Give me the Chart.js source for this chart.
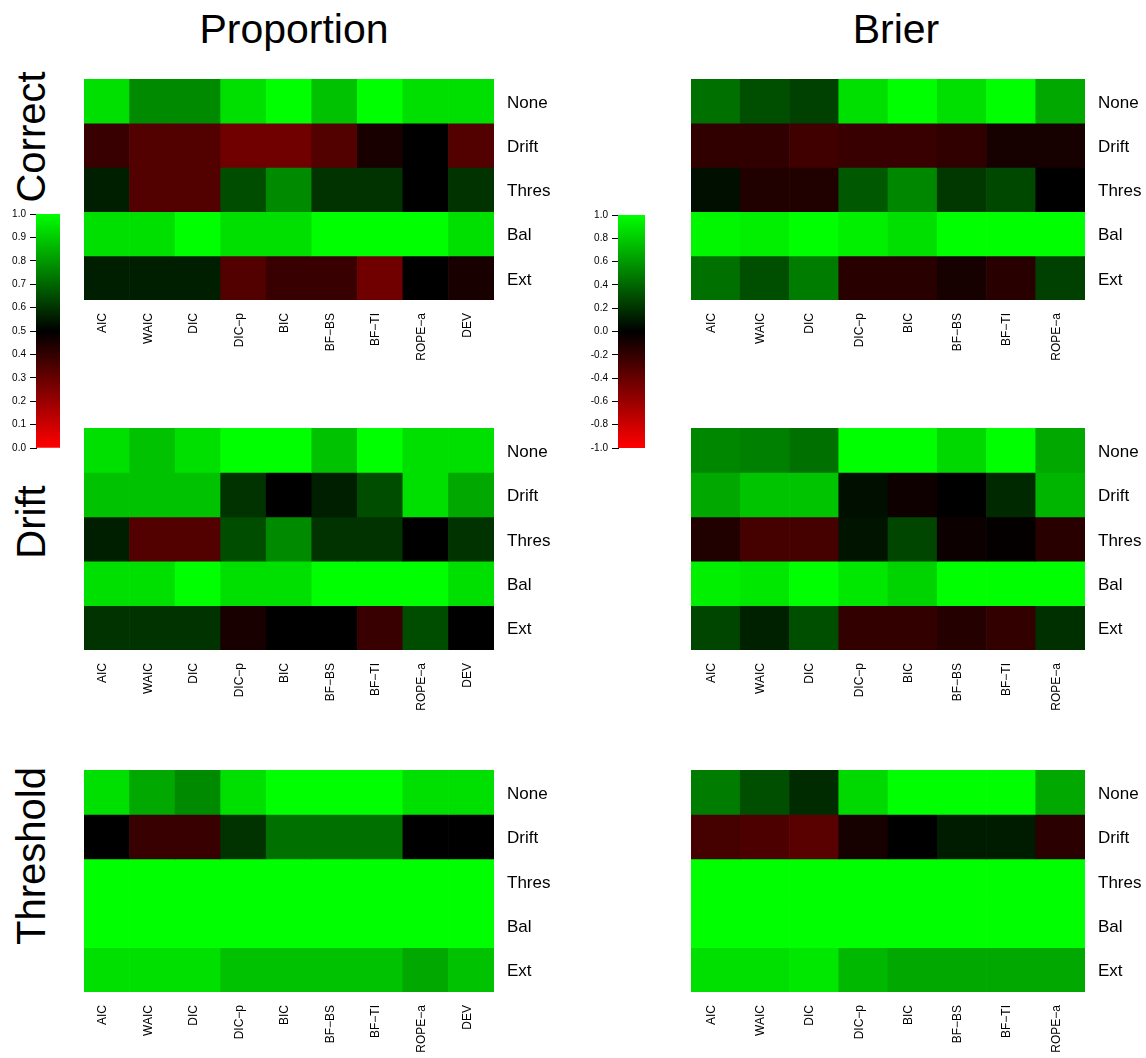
<!DOCTYPE html>
<html>
<head>
<meta charset="utf-8">
<script src="https://cdn.jsdelivr.net/npm/chart.js@4.4.0/dist/chart.umd.min.js"></script>
<style>
body { margin:0; background:#fff; overflow:hidden; width:1146px; height:1058px; position:relative; font-family:'Liberation Sans', Arial, sans-serif; color:#000; }
.box { position:absolute; }
.title { position:absolute; font-size:41px; line-height:40px; white-space:nowrap; transform:translateX(-50%); }
.side { position:absolute; font-size:40px; line-height:40px; white-space:nowrap; transform:translate(-50%,-50%) rotate(-90deg); }
</style>
</head>
<body>
<div class="title" style="left:294px;top:9px">Proportion</div>
<div class="title" style="left:896px;top:9px">Brier</div>
<div class="side" style="left:31px;top:137px">Correct</div>
<div class="side" style="left:31px;top:522px">Drift</div>
<div class="side" style="left:31px;top:856px">Threshold</div>

<div class="box" style="left:84px;top:79px;width:470px;height:296px"><canvas id="propCorrect"></canvas></div>
<div class="box" style="left:691px;top:79px;width:455px;height:296px"><canvas id="brierCorrect"></canvas></div>
<div class="box" style="left:84px;top:428px;width:470px;height:297px"><canvas id="propDrift"></canvas></div>
<div class="box" style="left:691px;top:428px;width:455px;height:297px"><canvas id="brierDrift"></canvas></div>
<div class="box" style="left:84px;top:770px;width:470px;height:297px"><canvas id="propThres"></canvas></div>
<div class="box" style="left:691px;top:770px;width:455px;height:297px"><canvas id="brierThres"></canvas></div>

<div class="box" style="left:0px;top:208px;width:60px;height:246px"><canvas id="barProp"></canvas></div>
<div class="box" style="left:570px;top:209px;width:75px;height:245px"><canvas id="barBrier"></canvas></div>

<script>
// methods (columns) and conditions (rows)
const propMethods = ['AIC', 'WAIC', 'DIC', 'DIC\u2212p', 'BIC', 'BF\u2212BS', 'BF\u2212TI', 'ROPE\u2212a', 'DEV'];
const brierMethods = ['AIC', 'WAIC', 'DIC', 'DIC\u2212p', 'BIC', 'BF\u2212BS', 'BF\u2212TI', 'ROPE\u2212a'];
const rowNames = ['None', 'Drift', 'Thres', 'Bal', 'Ext'];

// colour bar ticks
const propTicks = [0, 0.1, 0.2, 0.3, 0.4, 0.5, 0.6, 0.7, 0.8, 0.9, 1.0];
const brierTicks = [-1, -0.8, -0.6, -0.4, -0.2, 0, 0.2, 0.4, 0.6, 0.8, 1.0];

// proportion correct (0..1), rows None, Drift, Thres, Bal, Ext
const propCorrect = [
    [0.94, 0.77, 0.77, 0.94, 1.00, 0.88, 1.00, 0.94, 0.94],
    [0.39, 0.34, 0.34, 0.28, 0.28, 0.34, 0.45, 0.50, 0.34],
    [0.56, 0.34, 0.34, 0.65, 0.77, 0.60, 0.60, 0.50, 0.60],
    [0.94, 0.94, 1.00, 0.94, 0.94, 1.00, 1.00, 1.00, 0.94],
    [0.56, 0.56, 0.56, 0.34, 0.39, 0.39, 0.28, 0.50, 0.45]
];
const propDrift = [
    [0.94, 0.88, 0.94, 1.00, 1.00, 0.88, 1.00, 0.94, 0.94],
    [0.88, 0.88, 0.88, 0.60, 0.50, 0.56, 0.65, 0.94, 0.83],
    [0.56, 0.34, 0.34, 0.65, 0.77, 0.60, 0.60, 0.50, 0.60],
    [0.94, 0.94, 1.00, 0.94, 0.94, 1.00, 1.00, 1.00, 0.94],
    [0.60, 0.60, 0.60, 0.45, 0.50, 0.50, 0.39, 0.65, 0.50]
];
const propThres = [
    [0.94, 0.83, 0.77, 0.94, 1.00, 1.00, 1.00, 0.94, 0.94],
    [0.50, 0.39, 0.39, 0.60, 0.72, 0.72, 0.72, 0.50, 0.50],
    [1.00, 1.00, 1.00, 1.00, 1.00, 1.00, 1.00, 1.00, 1.00],
    [1.00, 1.00, 1.00, 1.00, 1.00, 1.00, 1.00, 1.00, 1.00],
    [0.94, 0.94, 0.94, 0.88, 0.88, 0.88, 0.88, 0.83, 0.88]
];

// Brier based score (-1..1)
const brierCorrect = [
    [0.44, 0.31, 0.25, 0.88, 1.00, 0.88, 1.00, 0.66],
    [-0.19, -0.19, -0.25, -0.22, -0.22, -0.19, -0.09, -0.09],
    [0.06, -0.13, -0.13, 0.35, 0.53, 0.22, 0.28, 0.00],
    [0.97, 0.94, 1.00, 0.94, 0.88, 1.00, 1.00, 1.00],
    [0.44, 0.31, 0.49, -0.16, -0.16, -0.09, -0.16, 0.25]
];
const brierDrift = [
    [0.53, 0.50, 0.44, 1.00, 1.00, 0.85, 1.00, 0.66],
    [0.66, 0.77, 0.77, 0.06, -0.06, 0.00, 0.16, 0.71],
    [-0.13, -0.27, -0.27, 0.08, 0.27, -0.05, -0.02, -0.16],
    [0.94, 0.91, 1.00, 0.91, 0.83, 1.00, 1.00, 1.00],
    [0.27, 0.13, 0.31, -0.20, -0.20, -0.14, -0.20, 0.19]
];
const brierThres = [
    [0.49, 0.31, 0.17, 0.85, 1.00, 1.00, 1.00, 0.66],
    [-0.27, -0.30, -0.35, -0.09, 0.00, 0.11, 0.11, -0.17],
    [1.00, 1.00, 1.00, 1.00, 1.00, 1.00, 1.00, 1.00],
    [1.00, 1.00, 1.00, 1.00, 1.00, 1.00, 1.00, 1.00],
    [0.88, 0.88, 0.91, 0.72, 0.66, 0.66, 0.66, 0.66]
];

const fontFam = "'Liberation Sans', Arial, sans-serif";

// red -> black -> green
function propColor(v) {
    if (v >= 0.5) return 'rgb(0,' + Math.round((v - 0.5) * 2 * 255) + ',0)';
    return 'rgb(' + Math.round((0.5 - v) * 2 * 255) + ',0,0)';
}
function brierColor(v) {
    if (v >= 0) return 'rgb(0,' + Math.round(v * 255) + ',0)';
    return 'rgb(' + Math.round(-v * 255) + ',0,0)';
}

function heatmap(id, methods, rows, colorFn, rightW) {
    const datasets = rows.map((vals, i) => ({
        label: rowNames[i],
        data: vals.map(() => 1),
        backgroundColor: vals.map(colorFn),
        borderWidth: 0,
        categoryPercentage: 1,
        barPercentage: 1
    }));
    new Chart(document.getElementById(id), {
        type: 'bar',
        data: { labels: methods, datasets: datasets },
        options: {
            responsive: true,
            maintainAspectRatio: false,
            animation: false,
            layout: { padding: 0 },
            plugins: { legend: { display: false }, tooltip: { enabled: false } },
            scales: {
                x: {
                    stacked: true,
                    grid: { display: false, drawTicks: false },
                    border: { display: false },
                    ticks: { autoSkip: false, minRotation: 90, maxRotation: 90, padding: 13, labelOffset: -4, color: '#000', font: { family: fontFam, size: 12 } },
                    afterFit: s => { s.height = 75; s.paddingLeft = 0; s.paddingRight = 0; }
                },
                y: { stacked: true, min: 0, max: 5, reverse: true, display: false },
                yl: {
                    type: 'category',
                    labels: rowNames,
                    position: 'right',
                    offset: true,
                    grid: { display: false, drawTicks: false },
                    border: { display: false },
                    ticks: { padding: 13, labelOffset: 2, color: '#000', font: { family: fontFam, size: 17 } },
                    afterFit: s => { s.width = rightW; s.paddingTop = 0; s.paddingBottom = 0; }
                }
            }
        }
    });
}

function colorbar(id, range, ticks, axisW) {
    new Chart(document.getElementById(id), {
        type: 'bar',
        data: {
            labels: [''],
            datasets: [{
                data: [range],
                borderWidth: 0,
                categoryPercentage: 1,
                barPercentage: 1,
                backgroundColor: c => {
                    const a = c.chart.chartArea;
                    if (!a) return '#000';
                    const g = c.chart.ctx.createLinearGradient(0, a.top, 0, a.bottom);
                    g.addColorStop(0, '#00ff00');
                    g.addColorStop(0.5, '#000000');
                    g.addColorStop(1, '#ff0000');
                    return g;
                }
            }]
        },
        options: {
            responsive: true,
            maintainAspectRatio: false,
            animation: false,
            layout: { padding: { top: 6, bottom: 6 } },
            plugins: { legend: { display: false }, tooltip: { enabled: false } },
            scales: {
                x: { display: false },
                y: {
                    min: range[0],
                    max: range[1],
                    afterBuildTicks: s => { s.ticks = ticks.map(v => ({ value: v })); },
                    grid: { drawOnChartArea: false, tickLength: 6, color: '#000' },
                    border: { color: '#000' },
                    ticks: {
                        padding: 4,
                        color: '#000',
                        font: { family: "'Liberation Sans Narrow', " + fontFam, size: 10 },
                        callback: v => (Math.abs(v) < 1e-9 ? 0 : v).toFixed(1)
                    },
                    afterFit: s => { s.width = axisW; s.paddingTop = 0; s.paddingBottom = 0; }
                }
            }
        }
    });
}

heatmap('propCorrect', propMethods, propCorrect, propColor, 60);
heatmap('propDrift', propMethods, propDrift, propColor, 60);
heatmap('propThres', propMethods, propThres, propColor, 60);
heatmap('brierCorrect', brierMethods, brierCorrect, brierColor, 61);
heatmap('brierDrift', brierMethods, brierDrift, brierColor, 61);
heatmap('brierThres', brierMethods, brierThres, brierColor, 61);

colorbar('barProp', [0, 1], propTicks, 36);
colorbar('barBrier', [-1, 1], brierTicks, 48);
</script>
</body>
</html>
